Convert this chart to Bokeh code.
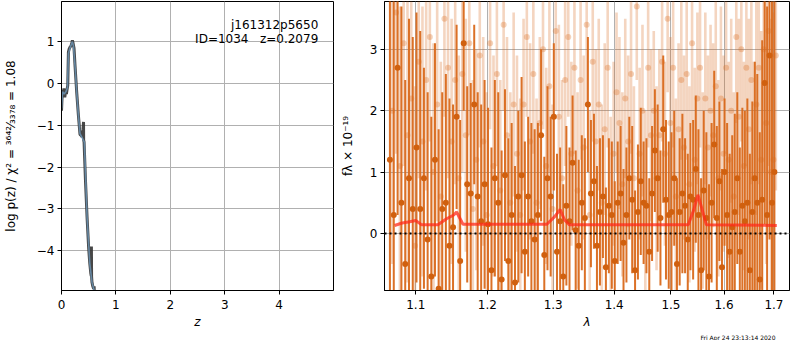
from bokeh.plotting import figure
from bokeh.layouts import row
from bokeh.models import Range1d, FixedTicker, Span, Label, Title, ColumnDataSource
from bokeh.embed import file_html
from bokeh.resources import INLINE

# ---------------- p(z) panel data ----------------
z_pz = [0.0, 0.01, 0.018, 0.03, 0.045, 0.06, 0.075, 0.09, 0.105, 0.115, 0.127, 0.14, 0.157,
        0.175, 0.19, 0.2, 0.21, 0.23, 0.25, 0.28, 0.31, 0.34, 0.36, 0.38, 0.395, 0.405, 0.407,
        0.415, 0.44, 0.47, 0.5, 0.52, 0.54, 0.547, 0.55, 0.553, 0.56, 0.575, 0.59, 0.60, 0.605, 0.62]
logp_pz = [-0.65, -0.35, -0.15, -0.3, -0.12, -0.33, -0.2, -0.25, -0.12, -0.05, 0.75, 0.82, 0.87,
           0.9, 0.97, 1.03, 0.98, 0.85, 0.4, -0.22, -0.75, -1.22, -1.24, -1.28, -1.1, -0.92, -1.35,
           -1.4, -2.3, -3.2, -3.95, -4.3, -4.55, -4.6, -3.9, -4.62, -4.75, -4.85, -4.9, -4.85, -5.1, -5.3]
z_sm = [0.0, 0.02, 0.05, 0.08, 0.11, 0.127, 0.16, 0.2, 0.22, 0.25, 0.28, 0.31, 0.34, 0.38,
        0.42, 0.47, 0.52, 0.56, 0.6, 0.62]
logp_sm = [-0.6, -0.2, -0.25, -0.2, -0.1, 0.72, 0.86, 1.0, 0.9, 0.4, -0.22, -0.75, -1.2, -1.3,
           -1.4, -3.2, -4.3, -4.75, -4.95, -5.3]

# ---------------- spectrum panel data ----------------
wl_dark = [1.066, 1.071, 1.076, 1.081, 1.086, 1.091, 1.096, 1.101, 1.106, 1.111,
           1.116, 1.121, 1.126, 1.131, 1.136, 1.141, 1.146, 1.151, 1.156, 1.161,
           1.166, 1.171, 1.176, 1.181, 1.186, 1.191, 1.196, 1.201, 1.206, 1.211,
           1.216, 1.221, 1.226, 1.231, 1.236, 1.241, 1.246, 1.251, 1.256, 1.261,
           1.266, 1.271, 1.276, 1.281, 1.286, 1.291, 1.296, 1.301, 1.306, 1.311,
           1.316, 1.321, 1.326, 1.331, 1.336, 1.341, 1.346, 1.351, 1.356, 1.361,
           1.366, 1.371, 1.376, 1.381, 1.386, 1.391, 1.396, 1.401, 1.406, 1.411,
           1.416, 1.421, 1.426, 1.431, 1.436, 1.441, 1.446, 1.451, 1.456, 1.461,
           1.466, 1.471, 1.476, 1.481, 1.486, 1.491, 1.496, 1.501, 1.506, 1.511,
           1.516, 1.521, 1.526, 1.531, 1.536, 1.541, 1.546, 1.551, 1.556, 1.561,
           1.566, 1.571, 1.576, 1.581, 1.586, 1.591, 1.596, 1.601, 1.606, 1.611,
           1.616, 1.621, 1.626, 1.631, 1.636, 1.641, 1.646, 1.651, 1.656, 1.661,
           1.666, 1.671, 1.676, 1.681, 1.686, 1.691, 1.696, 1.701]
flux_dark = [1.2, 0.3, 2.7, 0.5, -0.5, 0.9, 0.4, 1.4, 0.4, 0.9,
             -0.1, -0.7, 1.2, -0.9, 0.4, 0.5, -0.2, 0.1, 1.9, -0.45,
             3.1, 0.8, 0.65, 2.1, 0.6, 0.2, 0.8, 0.15, -0.6, 0.9,
             0.5, -0.75, 0.95, -0.45, 0.3, -0.8, 0.6, 0.95, -0.3, 0.6,
             0.2, -0.1, 0.3, 1.6, -0.35, 0.9, 0.6, 1.9, -0.3, 0.2,
             -0.7, 0.45, 0.2, 1.15, 0.05, -0.2, 0.5, 0.25, 2.1, 0.65,
             0.85, -0.2, 0.35, 0.6, -0.55, 0.45, 0.3, -0.45, 0.5, 0.65,
             -0.15, 0.3, 0.9, 0.55, -0.6, 0.35, 0.85, 0.5, 0.45, -0.3,
             0.65, 1.35, 0.9, 0.25, 1.7, 0.55, 0.3, 0.35, 0.9, -0.5,
             0.35, 0.65, 0.45, -0.1, 0.6, 0.55, 1.05, 0.3, -0.6, 0.7,
             0.25, -0.7, 0.5, 1.45, 0.25, 0.85, -0.55, 1.0, 0.3, -0.3,
             0.1, 0.35, 0.9, -0.3, 0.45, 0.2, 0.5, -0.6, 0.35, 0.9,
             0.5, -0.75, 0.55, 2.45, 0.3, 2.9, 0.5, 1.0]
err_dark = [2.6, 3.5, 2.4, 3.2, 3.0, 2.6, 2.8, 2.2, 2.9, 1.8,
            2.4, 2.6, 1.9, 2.6, 1.9, 2.1, 2.4, 2.0, 1.5, 2.3,
            1.1, 1.6, 1.8, 1.3, 1.7, 1.9, 1.7, 1.9, 2.0, 1.6,
            1.8, 2.1, 1.4, 2.0, 1.5, 1.9, 1.4, 1.6, 1.8, 1.3,
            1.6, 1.8, 1.5, 1.4, 1.6, 1.5, 1.3, 1.2, 1.6, 1.2,
            1.5, 1.3, 1.2, 1.1, 1.3, 1.4, 1.1, 1.3, 1.1, 1.2,
            1.1, 1.3, 1.2, 1.0, 1.3, 1.1, 1.2, 1.3, 1.0, 1.1,
            1.2, 1.1, 1.0, 1.2, 1.3, 1.1, 1.2, 1.0, 1.1, 1.2,
            1.1, 1.0, 1.2, 1.1, 1.2, 1.3, 1.2, 1.3, 1.1, 1.4,
            1.2, 1.3, 1.1, 1.4, 1.2, 1.3, 1.2, 1.4, 1.5, 1.3,
            1.4, 1.5, 1.3, 1.2, 1.5, 1.3, 1.6, 1.2, 1.5, 1.6,
            1.5, 1.6, 1.4, 1.7, 1.6, 1.8, 1.7, 1.9, 1.8, 1.9,
            2.1, 2.4, 2.6, 2.3, 3.4, 3.0, 3.6, 3.2]

wl_light = [1.069, 1.074, 1.079, 1.084, 1.089, 1.094, 1.099, 1.104, 1.109, 1.114,
            1.119, 1.124, 1.129, 1.134, 1.139, 1.144, 1.149, 1.154, 1.159, 1.164,
            1.169, 1.174, 1.179, 1.184, 1.189, 1.194, 1.199, 1.204, 1.209, 1.214,
            1.219, 1.224, 1.229, 1.234, 1.239, 1.244, 1.249, 1.254, 1.259, 1.264,
            1.269, 1.274, 1.279, 1.284, 1.289, 1.294, 1.299, 1.304, 1.309, 1.314,
            1.319, 1.324, 1.329, 1.334, 1.339, 1.344, 1.349, 1.354, 1.359, 1.364,
            1.369, 1.374, 1.379, 1.384, 1.389, 1.394, 1.399, 1.404, 1.409, 1.414,
            1.419, 1.424, 1.429, 1.434, 1.439, 1.444, 1.449, 1.454, 1.459, 1.464,
            1.469, 1.474, 1.479, 1.484, 1.489, 1.494, 1.499, 1.504, 1.509, 1.514,
            1.519, 1.524, 1.529, 1.534, 1.539, 1.544, 1.549, 1.554, 1.559, 1.564,
            1.569, 1.574, 1.579, 1.584, 1.589, 1.594, 1.599, 1.604, 1.609, 1.614,
            1.619, 1.624, 1.629, 1.634, 1.639, 1.644, 1.649, 1.654, 1.659, 1.664,
            1.669, 1.674, 1.679, 1.684, 1.689, 1.694, 1.699, 1.704]
flux_light = [2.0, 3.6, 1.1, 3.1, 1.6, 2.2, -0.2, 2.8, 1.5, 2.5,
              3.2, 1.0, 2.1, 0.6, 3.5, 2.7, 1.5, 2.5, 0.9, 2.6,
              1.6, 3.1, 0.4, 1.2, 2.9, 1.5, 0.3, 3.1, 1.1, 2.6,
              0.7, 3.4, 1.6, 0.5, 2.1, 1.3, 0.3, 2.1, 3.2, 1.5,
              2.6, 0.5, 1.8, 3.0, 1.1, 2.4, 0.4, 3.3, 1.9, 0.9,
              2.5, 3.2, 1.3, 2.7, 0.7, 2.5, 1.4, 3.4, 0.3, 2.8,
              1.5, 2.1, 0.5, 1.7, 2.7, 0.3, 1.3, 2.3, 1.8, 0.8,
              2.2, 1.5, 2.6, 0.9, 3.7, 1.3, 2.0, 0.5, 2.7, 1.6,
              2.0, 0.9, 1.6, 2.8, 1.3, 3.5, 1.8, 2.7, 0.6, 1.7,
              2.5, 1.4, 2.6, 0.8, 3.1, 1.2, 2.2, 2.7, 0.7, 2.2,
              1.4, 2.0, 1.6, 2.4, 0.9, 2.2, 1.3, 2.7, 1.2, 2.0,
              0.6, 3.2, 1.9, 3.0, 1.1, 2.7, 1.7, 2.5, 0.9, 2.1,
              2.7, 1.2, 3.0, 1.8, 3.3, 1.0, 1.2, 2.9]
err_light = [2.5, 2.3, 2.6, 2.0, 2.4, 2.0, 2.6, 1.9, 2.2, 1.8,
             1.7, 2.1, 1.9, 2.2, 1.6, 1.8, 2.0, 1.7, 2.0, 1.6,
             1.9, 1.5, 2.1, 1.8, 1.5, 1.7, 2.0, 1.4, 1.8, 1.5,
             1.8, 1.4, 1.6, 1.8, 1.5, 1.6, 1.9, 1.4, 1.3, 1.6,
             1.3, 1.7, 1.4, 1.3, 1.6, 1.4, 1.7, 1.3, 1.5, 1.6,
             1.4, 1.3, 1.5, 1.4, 1.6, 1.3, 1.5, 1.3, 1.7, 1.3,
             1.5, 1.4, 1.6, 1.4, 1.3, 1.6, 1.5, 1.3, 1.4, 1.5,
             1.3, 1.4, 1.3, 1.5, 1.2, 1.4, 1.4, 1.5, 1.3, 1.4,
             1.3, 1.5, 1.4, 1.3, 1.5, 1.2, 1.4, 1.3, 1.6, 1.4,
             1.3, 1.5, 1.4, 1.6, 1.3, 1.5, 1.4, 1.3, 1.6, 1.4,
             1.5, 1.4, 1.5, 1.4, 1.6, 1.5, 1.6, 1.4, 1.6, 1.5,
             1.7, 1.4, 1.6, 1.5, 1.7, 1.6, 1.8, 1.7, 1.9, 1.8,
             1.9, 2.1, 2.0, 2.3, 2.2, 2.5, 2.4, 2.2]

model_wl = [1.072, 1.082, 1.092, 1.100, 1.108, 1.130, 1.142, 1.152, 1.156, 1.165, 1.290,
            1.302, 1.311, 1.318, 1.326, 1.532, 1.542, 1.550, 1.557, 1.566, 1.706]
model_flux = [0.13, 0.17, 0.19, 0.21, 0.14, 0.14, 0.24, 0.30, 0.35, 0.15, 0.15,
              0.27, 0.39, 0.22, 0.14, 0.14, 0.38, 0.63, 0.42, 0.14, 0.13]

z_ticks = [0, 1, 2, 3, 4]
logp_ticks = [-4, -3, -2, -1, 0, 1]
wl_ticks = [1.1, 1.2, 1.3, 1.4, 1.5, 1.6, 1.7]
flux_ticks = [0, 1, 2, 3]

obj_name = "j161312p5650"
obj_info = "ID=1034\u00a0\u00a0\u00a0z=0.2079"
timestamp = "Fri Apr 24 23:13:14 2020"

FONT = "DejaVu Sans"
ORANGE = "#d9691b"
GRID = "#b0b0b0"
FRAME_H = 289
BOTTOM = 44


def minus(v):
    return ("%g" % v).replace("-", "\u2212")


def style(p):
    p.outline_line_color = "black"
    p.outline_line_width = 1
    p.background_fill_color = "white"
    p.border_fill_color = "white"
    for ax in (p.xaxis[0], p.yaxis[0]):
        ax.axis_line_color = "black"
        ax.major_tick_line_color = "black"
        ax.major_tick_out = 4
        ax.major_tick_in = 0
        ax.minor_tick_line_color = None
        ax.major_label_text_font = FONT
        ax.major_label_text_font_size = "12px"
        ax.major_label_text_color = "black"
        ax.axis_label_text_font = FONT
        ax.axis_label_text_font_size = "12px"
        ax.axis_label_text_color = "black"
    p.xaxis.major_label_standoff = 5
    p.xaxis.axis_label_standoff = 3
    p.yaxis.major_label_standoff = 3
    p.grid.grid_line_color = GRID
    p.grid.grid_line_width = 1


# ---------------- left: p(z) ----------------
p1 = figure(frame_width=272, frame_height=FRAME_H,
            x_range=Range1d(0, 5.0), y_range=Range1d(-4.95, 1.96),
            output_backend="svg", toolbar_location=None,
            min_border_left=54, min_border_right=4, min_border_top=1,
            min_border_bottom=BOTTOM)
style(p1)
p1.xaxis.ticker = FixedTicker(ticks=z_ticks, minor_ticks=[])
p1.yaxis.ticker = FixedTicker(ticks=logp_ticks, minor_ticks=[])
p1.yaxis.major_label_overrides = {t: minus(t) for t in logp_ticks}
p1.xaxis.axis_label = "z"
p1.xaxis.axis_label_text_font_style = "italic"
p1.yaxis.axis_label = "log p(z) / \u03c7\u00b2 = \u00b3\u2076\u2074\u00b2\u2044\u2083\u2083\u2087\u2088 = 1.08"
p1.yaxis.axis_label_text_font_style = "normal"
p1.yaxis.axis_label_standoff = 16

p1.line(z_pz, logp_pz, line_color="#333333", line_width=3, line_alpha=0.9)
p1.line(z_sm, logp_sm, line_color="#6f9cc0", line_width=1.6, line_alpha=0.75)

p1.add_layout(Label(x=4.72, y=1.39, text=obj_name, text_align="right",
                    text_baseline="alphabetic", text_font=FONT, text_font_size="12px",
                    text_color="black"))
p1.add_layout(Label(x=4.72, y=1.06, text=obj_info, text_align="right",
                    text_baseline="alphabetic", text_font=FONT, text_font_size="12px",
                    text_color="black"))

# ---------------- right: spectrum ----------------
p2 = figure(frame_width=405, frame_height=FRAME_H, x_axis_type="log",
            x_range=Range1d(1.059, 1.7325), y_range=Range1d(-0.93, 3.78),
            output_backend="svg", toolbar_location=None,
            min_border_left=44, min_border_right=3, min_border_top=1,
            min_border_bottom=BOTTOM)
style(p2)
p2.xaxis.ticker = FixedTicker(ticks=wl_ticks, minor_ticks=[])
p2.xaxis.major_label_overrides = {t: "%.1f" % t for t in wl_ticks}
p2.yaxis.ticker = FixedTicker(ticks=flux_ticks, minor_ticks=[])
p2.yaxis.major_label_overrides = {t: minus(t) for t in flux_ticks}
p2.xaxis.axis_label = "\u03bb"
p2.xaxis.axis_label_text_font_style = "italic"
p2.yaxis.axis_label = "f\u03bb \u00d7 10\u207b\u00b9\u2079"
p2.yaxis.axis_label_text_font_style = "normal"
p2.yaxis.axis_label_standoff = 12

src_light = ColumnDataSource(dict(
    wl=wl_light, f=flux_light,
    lo=[f - e for f, e in zip(flux_light, err_light)],
    hi=[f + e for f, e in zip(flux_light, err_light)]))
src_dark = ColumnDataSource(dict(
    wl=wl_dark, f=flux_dark,
    lo=[f - e for f, e in zip(flux_dark, err_dark)],
    hi=[f + e for f, e in zip(flux_dark, err_dark)]))

p2.segment(x0="wl", y0="lo", x1="wl", y1="hi", source=src_light,
           line_color=ORANGE, line_alpha=0.28, line_width=2.6)
p2.scatter(x="wl", y="f", source=src_light, size=6, fill_color=ORANGE, fill_alpha=0.3,
           line_color=None)
p2.segment(x0="wl", y0="lo", x1="wl", y1="hi", source=src_dark,
           line_color=ORANGE, line_alpha=0.95, line_width=2)
p2.scatter(x="wl", y="f", source=src_dark, size=6, fill_color="#d0600f", fill_alpha=1,
           line_color=None)

p2.line(model_wl, model_flux, line_color="#ff2a1a", line_width=3, line_alpha=0.75)
p2.add_layout(Span(location=0, dimension="width", line_color="black", line_width=2,
                   line_dash="2 3"))

p2.add_layout(Title(text=timestamp, align="left", offset=316, standoff=0,
                    text_font=FONT, text_font_size="6px", text_font_style="normal",
                    text_color="black"), "below")

layout = row(p1, p2)
open("out.html", "w").write(file_html(layout, INLINE))
